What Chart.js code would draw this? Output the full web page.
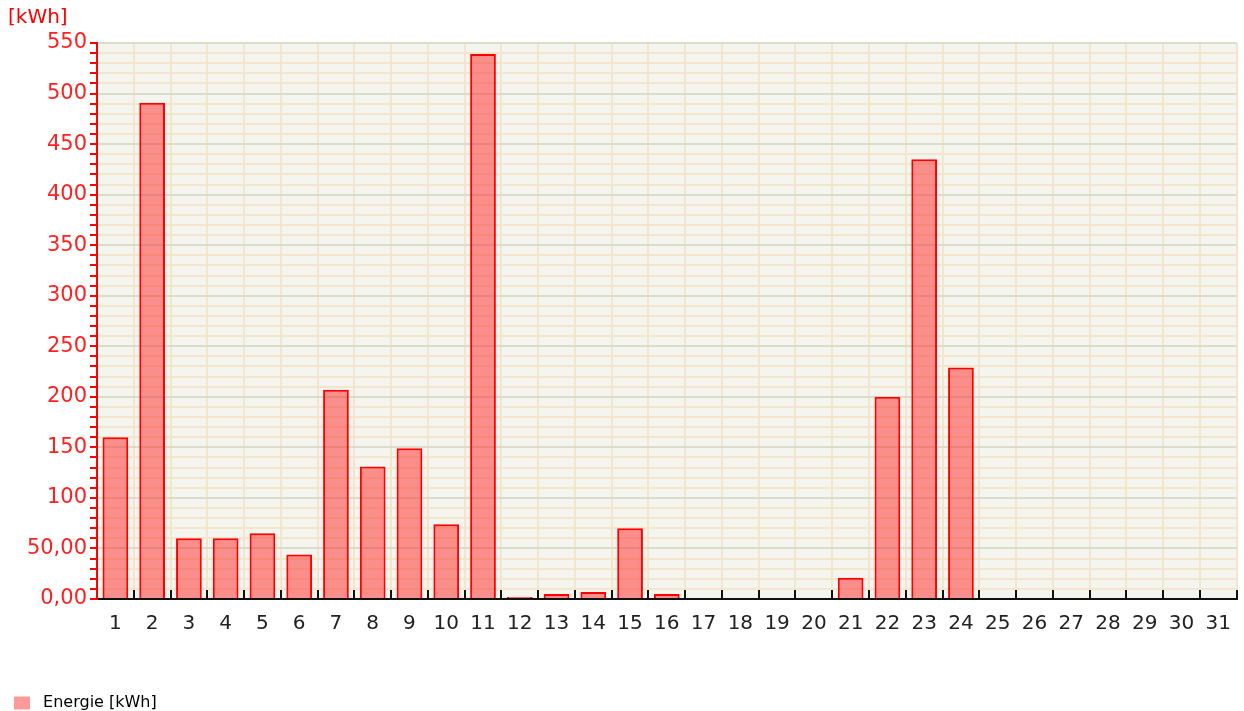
<!DOCTYPE html>
<html>
<head>
<meta charset="utf-8">
<script src="https://cdn.jsdelivr.net/npm/chart.js@4.4.1/dist/chart.umd.min.js"></script>
<style>
  html, body { margin: 0; padding: 0; background: #ffffff; }
  #wrap { width: 1244px; height: 711px; }
</style>
</head>
<body>
<div id="wrap"><canvas id="chart" width="1244" height="711"></canvas></div>
<script>
// Tage im Monat
const days = [];
for (let d = 1; d <= 31; d++) days.push(String(d));

// Energie pro Tag [kWh]
const energy = [160, 491, 60, 60, 65, 44, 207, 131, 149, 74, 539, 2, 5, 7, 70, 5,
  0, 0, 0, 0, 21, 200, 435, 229, 0, 0, 0, 0, 0, 0, 0];

const seriesLabel = "Energie [kWh]";
const unitLabel = "[kWh]";
const yMax = 550;

const fontFamily = "'DejaVu Sans', 'Liberation Sans', Arial, sans-serif";

// Hilfsfunktion: Zahl im deutschen Format
function fmtTick(v) {
  if (v % 50 !== 0) return "";
  if (v < 100) return v.toFixed(2).replace(".", ",");
  return String(v);
}

// kleine schwarze Striche nach oben an der x-Achse
const xTickMarks = {
  id: "xTickMarks",
  afterDatasetsDraw(chart) {
    const x = chart.scales.x;
    const ctx = chart.ctx;
    const bottom = chart.chartArea.bottom;
    ctx.save();
    ctx.strokeStyle = "#111111";
    ctx.lineWidth = 2;
    for (let i = 1; i <= days.length; i++) {
      let px;
      if (i === days.length) px = x.right;
      else px = (x.getPixelForTick(i - 1) + x.getPixelForTick(i)) / 2;
      ctx.beginPath();
      ctx.moveTo(Math.round(px), bottom);
      ctx.lineTo(Math.round(px), bottom - 9);
      ctx.stroke();
    }
    ctx.restore();
  }
};

// Hintergrund der Zeichenfläche
const plotBg = {
  id: "plotBg",
  beforeDraw(chart) {
    const a = chart.chartArea;
    chart.ctx.save();
    chart.ctx.fillStyle = "#f5f5ef";
    chart.ctx.fillRect(a.left, a.top, a.right - a.left, a.bottom - a.top);
    chart.ctx.restore();
  }
};

new Chart(document.getElementById("chart").getContext("2d"), {
  type: "bar",
  data: {
    labels: days,
    datasets: [
      {
        label: seriesLabel,
        data: energy,
        backgroundColor: "rgba(255, 40, 40, 0.5)",
        borderColor: "#ff0000",
        borderWidth: 2,
        borderSkipped: "bottom",
        barPercentage: 0.7,
        categoryPercentage: 1.0,
      },
    ],
  },
  options: {
    responsive: false,
    animation: false,
    layout: { padding: { left: 8, right: -4, top: 0, bottom: -10 } },
    plugins: {
      title: {
        display: true,
        text: unitLabel,
        align: "start",
        color: "#ff0000",
        font: { family: fontFamily, size: 20, weight: "normal" },
        padding: { top: 6, bottom: 13 },
      },
      legend: {
        position: "bottom",
        align: "start",
        labels: {
          color: "#222222",
          font: { family: fontFamily, size: 16 },
          boxWidth: 16,
          boxHeight: 13,
          padding: 6,
          generateLabels(chart) {
            return [{
              text: " " + seriesLabel,
              fillStyle: "rgba(255, 120, 120, 0.75)",
              strokeStyle: "rgba(255, 120, 120, 0)",
              lineWidth: 0,
              datasetIndex: 0,
            }];
          },
        },
      },
      tooltip: { enabled: false },
    },
    scales: {
      x: {
        grid: {
          offset: true,
          color: "#f3e6cc",
          lineWidth: 2,
          drawTicks: false,
        },
        border: { color: "#111111", width: 2 },
        ticks: {
          color: "#222222",
          font: { family: fontFamily, size: 20 },
          padding: 13,
          maxRotation: 0,
          autoSkip: false,
        },
        afterFit(scale) {
          scale.height += 40;
        },
      },
      y: {
        min: 0,
        max: yMax,
        grid: {
          color: (c) => (c.tick && c.tick.value % 50 === 0 ? "#dcdccb" : "#f3e6cc"),
          tickColor: "#ff0000",
          lineWidth: 2,
          tickWidth: 2,
          tickLength: 7,
        },
        border: { color: "#ff0000", width: 2 },
        ticks: {
          stepSize: 10,
          autoSkip: false,
          color: "#ff2020",
          font: { family: fontFamily, size: 21 },
          padding: 3,
          callback: (v) => fmtTick(v),
        },
        afterFit(scale) {
          scale.width = 89;
        },
      },
    },
  },
  plugins: [plotBg, xTickMarks],
});
</script>
</body>
</html>
